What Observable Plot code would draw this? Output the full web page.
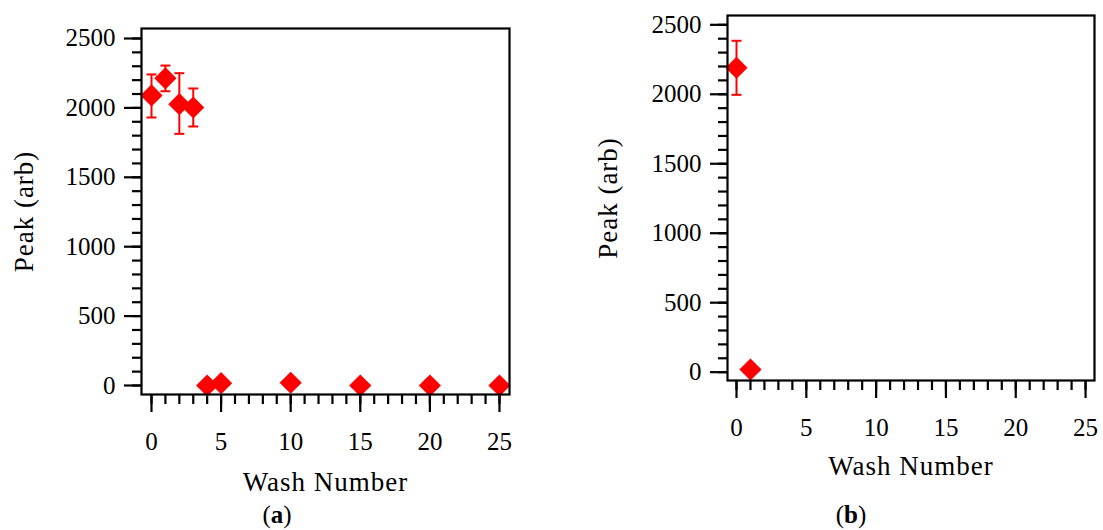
<!DOCTYPE html>
<html><head><meta charset="utf-8">
<script src="https://cdn.jsdelivr.net/npm/d3@7"></script>
<script src="https://cdn.jsdelivr.net/npm/@observablehq/plot@0.6"></script>
<style>
body{margin:0;background:#fff;}
#wrap{position:relative;width:1103px;height:530px;font-family:"Liberation Serif",serif;color:#000;overflow:hidden;}
.panel{position:absolute;top:0;}
.cap{position:absolute;top:502px;font-size:25px;line-height:26px;height:26px;text-align:center;width:60px;}
g[aria-label="x-axis label"] text, g[aria-label="y-axis label"] text{font-size:27px;letter-spacing:1px;}
</style></head>
<body>
<div id="wrap">
  <div class="panel" id="pa" style="left:0;width:551px;"></div>
  <div class="panel" id="pb" style="left:551px;width:552px;"></div>
  <div class="cap" style="left:247px;">(<b>a</b>)</div>
  <div class="cap" style="left:821px;">(<b>b</b>)</div>
</div>
<script>
// Panel (a) data
const washA = [0, 1, 2, 3, 4, 5, 10, 15, 20, 25];
const peakA = [2090, 2213, 2027, 2003, 0, 17, 20, 0, 0, 0];
const errWashA = [0, 1, 2, 3];
const errLowA = [1931, 2120, 1813, 1866];
const errHighA = [2241, 2305, 2250, 2140];

// Panel (b) data
const washB = [0, 1];
const peakB = [2191, 19];
const errWashB = [0];
const errLowB = [1996];
const errHighB = [2385];

// Axis tick labels
const xTicks = [0, 5, 10, 15, 20, 25];
const yTicks = [0, 500, 1000, 1500, 2000, 2500];
const xMinor = d3.range(0, 26, 1);
const yMinor = d3.range(0, 2501, 100);

const RED = "#ff0000";
const capSymbol = {
  draw(ctx, size) {
    const w = Math.sqrt(size / Math.PI);
    ctx.moveTo(-w, 0);
    ctx.lineTo(w, 0);
  }
};

function panel({width, height, mt, mr, mb, ml, xDomain, yDomain, wash, peak, ew, elo, ehi, xLabelOffset, yLabelOffset}) {
  const pts = wash.map((w, i) => ({w, p: peak[i]}));
  const errs = ew.map((w, i) => ({w, lo: elo[i], hi: ehi[i]}));
  return Plot.plot({
    width, height,
    marginTop: mt, marginRight: mr, marginBottom: mb, marginLeft: ml,
    style: {fontFamily: "Liberation Serif, serif", fontSize: "25px", color: "#000", background: "transparent", overflow: "visible"},
    x: {domain: xDomain},
    y: {domain: yDomain},
    marks: [
      Plot.axisX(xMinor, {tickSize: 10, tickFormat: () => "", label: null, strokeWidth: 2.2}),
      Plot.axisX(xTicks, {tickSize: 18, tickPadding: 20, tickFormat: d3.format("d"), label: "Wash Number", labelAnchor: "center", labelOffset: xLabelOffset, labelArrow: "none", strokeWidth: 2.2}),
      Plot.axisY(yMinor, {tickSize: 9, tickFormat: () => "", label: null, strokeWidth: 2.2}),
      Plot.axisY(yTicks, {tickSize: 17, tickPadding: 9, tickFormat: d3.format("d"), label: "Peak (arb)", labelAnchor: "center", labelOffset: yLabelOffset, labelArrow: "none", strokeWidth: 2.2}),
      Plot.ruleX(errs, {x: "w", y1: "lo", y2: "hi", stroke: RED, strokeWidth: 2}),
      Plot.dot(errs, {x: "w", y: "lo", symbol: capSymbol, r: 5, stroke: RED, strokeWidth: 2, fill: "none"}),
      Plot.dot(errs, {x: "w", y: "hi", symbol: capSymbol, r: 5, stroke: RED, strokeWidth: 2, fill: "none"}),
      Plot.dot(pts, {x: "w", y: "p", symbol: "diamond2", r: 10, fill: RED, stroke: "none"}),
      Plot.frame({stroke: "#000", strokeWidth: 2.2})
    ]
  });
}

document.getElementById("pa").append(panel({
  width: 551, height: 500, mt: 28, mr: 42, mb: 106, ml: 141,
  xDomain: [-0.718, 25.72], yDomain: [-64.8, 2572],
  wash: washA, peak: peakA, ew: errWashA, elo: errLowA, ehi: errHighA,
  xLabelOffset: 96, yLabelOffset: 128
}));
document.getElementById("pb").append(panel({
  width: 552, height: 500, mt: 15, mr: 9, mb: 120, ml: 176,
  xDomain: [-0.645, 25.64], yDomain: [-60, 2567],
  wash: washB, peak: peakB, ew: errWashB, elo: errLowB, ehi: errHighB,
  xLabelOffset: 94, yLabelOffset: 130
}));
</script>
</body></html>
